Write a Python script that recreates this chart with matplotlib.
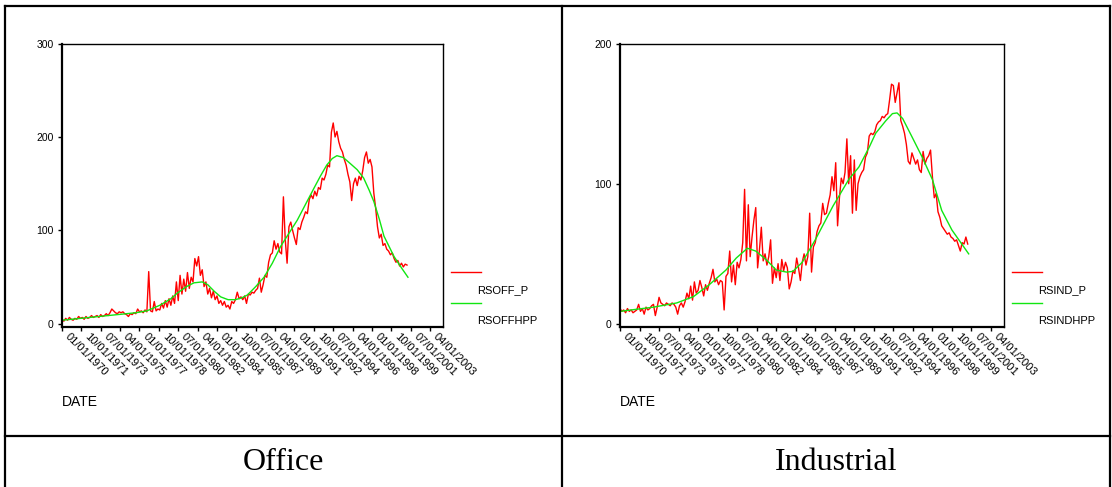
"""
Office / Industrial rent series with HP trend, SPSS style sequence charts
"""
import numpy as np
import matplotlib
matplotlib.use('Agg')
import matplotlib.pyplot as plt
from matplotlib.lines import Line2D
from matplotlib.transforms import ScaledTranslation

plt.rcParams['font.family'] = ['Liberation Sans', 'DejaVu Sans']

# x tick labels (every 21 months from 01/1970)
date_labels = ['01/01/1970', '10/01/1971', '07/01/1973', '04/01/1975', '01/01/1977',
               '10/01/1978', '07/01/1980', '04/01/1982', '01/01/1984', '10/01/1985',
               '07/01/1987', '04/01/1989', '01/01/1991', '10/01/1992', '07/01/1994',
               '04/01/1996', '01/01/1998', '10/01/1999', '07/01/2001', '04/01/2003']

# series read every 2 months starting 01/1970
step_months = 2

rsoff_p = [5, 3, 6, 4, 7, 5, 4, 6, 5, 8, 6, 7, 5, 8, 6, 7, 9, 7, 8, 9,
           7, 10, 8, 9, 11, 9, 12, 16, 14, 12, 11, 13, 12, 13, 11, 10, 8, 11, 10, 12,
           11, 16, 13, 14, 12, 15, 13, 56, 14, 13, 24, 14, 16, 15, 22, 17, 25, 18, 27, 20,
           30, 22, 45, 25, 52, 32, 48, 35, 55, 38, 50, 45, 70, 62, 72, 52, 58, 40, 45, 32,
           38, 28, 35, 26, 30, 22, 25, 20, 24, 18, 20, 16, 24, 22, 26, 34, 27, 29, 26, 30,
           22, 32, 31, 34, 33, 36, 38, 49, 34, 42, 52, 50, 66, 74, 76, 89, 80, 86, 77, 75,
           136, 90, 65, 104, 109, 100, 92, 85, 103, 101, 109, 114, 120, 118, 133, 138, 134, 142, 137, 146,
           144, 156, 154, 160, 170, 168, 205, 215, 200, 206, 195, 188, 184, 176, 170, 160, 152, 132, 150, 156,
           148, 158, 154, 164, 178, 184, 172, 176, 168, 140, 124, 104, 92, 96, 84, 86, 80, 78, 74, 76,
           70, 66, 68, 62, 65, 61, 64, 63]

rsoffhpp_month = [0, 20, 40, 60, 80, 92, 106, 118, 125, 135, 143, 152, 158, 165, 172, 180, 188, 195,
                  201, 210, 219, 228, 237, 246, 255, 264, 273, 280, 287, 293, 298, 305, 312, 320,
                  327, 333, 338, 344, 349, 355, 360, 368, 375]
rsoffhpp = [4, 6, 8, 10, 12, 14, 20, 27, 33, 40, 44, 45, 42, 35, 29, 26, 26, 28,
            31, 40, 50, 65, 83, 97, 111, 128, 145, 158, 170, 177, 180, 178, 172, 165,
            156, 143, 131, 112, 94, 82, 72, 60, 50]

rsind_p = [11, 9, 10, 8, 11, 9, 10, 8, 9, 10, 14, 9, 11, 7, 12, 10, 11, 13, 14, 6,
           12, 19, 15, 14, 13, 15, 14, 13, 15, 14, 12, 7, 13, 15, 12, 16, 22, 18, 27, 17,
           30, 22, 24, 31, 26, 20, 28, 24, 29, 33, 39, 30, 32, 28, 31, 30, 10, 34, 36, 52,
           30, 42, 28, 44, 40, 46, 58, 96, 45, 85, 48, 62, 74, 83, 40, 53, 69, 45, 50, 42,
           48, 60, 29, 40, 33, 43, 31, 46, 38, 44, 40, 25, 30, 38, 36, 47, 40, 31, 44, 50,
           42, 48, 79, 37, 55, 58, 66, 70, 72, 86, 78, 79, 86, 92, 105, 95, 115, 70, 90, 104,
           100, 108, 132, 100, 120, 79, 117, 81, 100, 105, 108, 110, 119, 122, 134, 136, 135, 137, 142, 144,
           145, 148, 147, 149, 150, 160, 171, 170, 158, 165, 172, 145, 141, 136, 128, 116, 114, 122, 118, 114,
           117, 110, 108, 123, 114, 118, 120, 124, 105, 90, 93, 80, 76, 70, 68, 66, 64, 65, 62, 61,
           59, 60, 56, 52, 58, 57, 62, 57]

rsindhpp_month = [0, 36, 61, 79, 96, 114, 125, 137, 146, 157, 168, 179, 186, 196, 210, 229, 246,
                  257, 268, 275, 286, 293, 298, 304, 314, 325, 336, 346, 357, 375]
rsindhpp = [9, 12, 15, 19.5, 28, 38.5, 47, 54, 52, 46, 38.5, 37, 37.5, 44, 60, 84, 103,
            112, 126, 136, 145, 150, 150.5, 146.5, 133.5, 119, 103, 81, 67, 50]

W, H = 1112, 487
fig = plt.figure(figsize=(W / 100, H / 100), dpi=100)
fig.patch.set_facecolor('white')


def fx(x):
    return x / W


def fy(y):
    return 1 - y / H


def label_month(s):
    mm, dd, yy = s.split('/')
    return (int(yy) - 1970) * 12 + int(mm) - 1


tick_pos = [label_month(s) for s in date_labels]
RED = '#ff0000'
GREEN = '#11e611'


def draw_panel(left, width, red, g_month, g_val, ytop, yticks, names, caption, cell_center):
    right = left + width
    ax = fig.add_axes([fx(left), fy(326.5), width / W, (326.5 - 43.5) / H])
    months = np.arange(len(red)) * step_months
    ax.plot(months, red, color=RED, linewidth=1.0)
    ax.plot(g_month, g_val, color=GREEN, linewidth=1.0)
    ax.set_xlim(0, 413)
    ax.set_ylim(-ytop * 0.009, ytop)
    ax.set_yticks(yticks)
    ax.set_yticklabels([str(v) for v in yticks], fontsize=7.5)
    ax.set_xticks(tick_pos)
    ax.set_xticklabels(date_labels, fontsize=8, rotation=-45, ha='left', va='center',
                       rotation_mode='anchor')
    ax.tick_params(axis='x', direction='out', length=3, width=1, pad=3)
    ax.tick_params(axis='y', direction='out', length=3, width=1, pad=3)
    for lab in ax.get_xticklabels():
        lab.set_transform(lab.get_transform() + ScaledTranslation(5 / 100, 0, fig.dpi_scale_trans))
    for side in ['top', 'right']:
        ax.spines[side].set_linewidth(1.0)
    for side in ['left', 'bottom']:
        ax.spines[side].set_linewidth(1.6)

    # legend, SPSS style
    lx = right + 8
    fig.add_artist(Line2D([fx(lx), fx(lx + 30)], [fy(271.7), fy(271.7)], color=RED, linewidth=1.0))
    fig.text(fx(lx + 26), fy(290), names[0], fontsize=8, ha='left', va='center')
    fig.add_artist(Line2D([fx(lx), fx(lx + 30)], [fy(302.7), fy(302.7)], color=GREEN, linewidth=1.0))
    fig.text(fx(lx + 26), fy(321.5), names[1], fontsize=8, ha='left', va='center')

    fig.text(fx(left), fy(402), 'DATE', fontsize=10, ha='left', va='center')
    fig.text(fx(cell_center), fy(463), caption, fontsize=23, ha='center', va='center',
             family=['Liberation Serif', 'DejaVu Serif'])
    return ax


draw_panel(62, 381, rsoff_p, rsoffhpp_month, rsoffhpp, 300, [0, 100, 200, 300],
           ['RSOFF_P', 'RSOFFHPP'], 'Office', 283.5)
draw_panel(620, 384, rsind_p, rsindhpp_month, rsindhpp, 200, [0, 100, 200],
           ['RSIND_P', 'RSINDHPP'], 'Industrial', 836)

# table borders
table_lines = [
    ((5, 6), (1110, 6)),
    ((5, 436), (1110, 436)),
    ((5, 6), (5, 487)),
    ((562, 6), (562, 487)),
    ((1110, 6), (1110, 487)),
]
for (x0, y0), (x1, y1) in table_lines:
    fig.add_artist(Line2D([fx(x0), fx(x1)], [fy(y0), fy(y1)], color='black', linewidth=1.6))

plt.savefig('out.png', dpi=100)
